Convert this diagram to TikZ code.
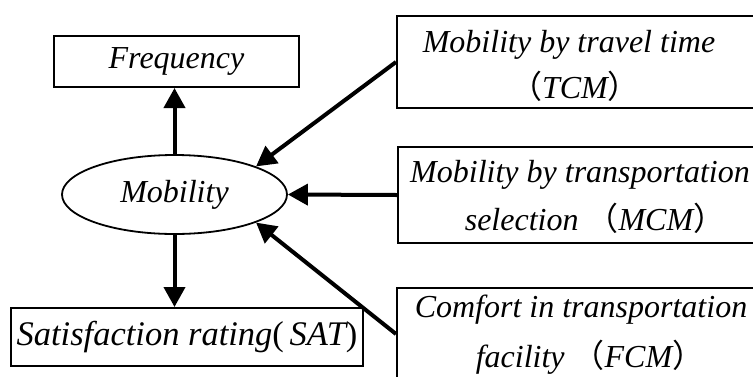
\documentclass[tikz,border=0pt]{standalone}
\usepackage{fontspec}
\setmainfont{Liberation Serif}
\newfontfamily\cjk{Noto Sans CJK SC}
\usetikzlibrary{arrows.meta,shapes.geometric}
\begin{document}
\begin{tikzpicture}
[x=1pt,y=-1pt,%
  box/.style={draw,line width=2pt,inner sep=0pt,anchor=north west,font=\itshape},%
  txt/.style={anchor=base,font=\itshape},%
  arr/.style={line width=4pt,-{Triangle[length=20pt,width=21pt]}}]
\fontsize{32}{47}\selectfont
\clip (0,0) rectangle (753,376);
\node[box,minimum width=245pt,minimum height=51pt] (freq) at (53,35) {Frequency};
\node[draw,ellipse,line width=1.8pt,inner sep=0pt,minimum width=225pt,minimum height=79pt,font=\itshape] (mob) at (174.5,194.5) {Mobility};
\node[box,minimum width=352pt,minimum height=58pt,font=\itshape\fontsize{34.5}{40}\selectfont] (sat) at (10,307) {Satisfaction rating{\upshape(}\,SAT{\upshape)}};
\node[box,minimum width=400pt,minimum height=92pt] (tcm) at (396,15) {};
\node[box,minimum width=400pt,minimum height=96pt] (mcm) at (397,146) {};
\node[box,minimum width=400pt,minimum height=92pt] (fcm) at (396,287) {};
\node[txt] (tcm1) at (569,52) {Mobility by travel time};
\node[txt] (tcm2) at (575,98) {{\cjk（}TCM{\cjk）}};
\node[txt] (mcm1) at (580,182) {Mobility by transportation};
\node[txt] (mcm2) at (595,230) {selection {\cjk（}MCM{\cjk）}};
\node[txt] (fcm1) at (581,317) {Comfort in transportation};
\node[txt] (fcm2) at (590,367) {facility {\cjk（}FCM{\cjk）}};
\draw[arr] (mob.north) -- (mob.north |- freq.south);
\draw[arr] (mob.south) -- (mob.south |- sat.north);
\draw[arr] (tcm.west) -- (mob.19);
\draw[arr] (mcm.west) -- (mob.east);
\draw[arr] (fcm.west) -- (mob.-19);
\end{tikzpicture}
\end{document}
